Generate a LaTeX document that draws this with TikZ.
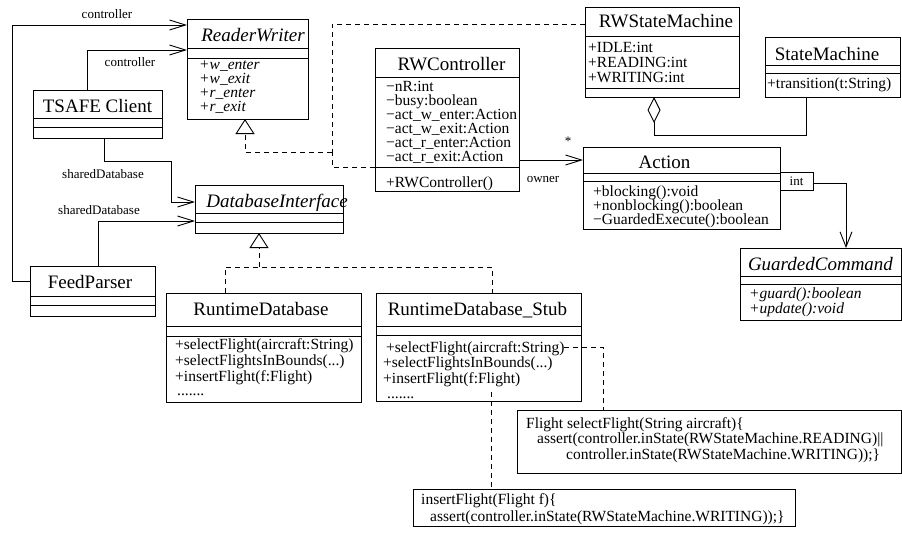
\documentclass[tikz,border=0pt]{standalone}
\usepackage{fontspec}
\setmainfont{Liberation Serif}
\usetikzlibrary{arrows.meta}
\newcommand\compline[2]{\draw[ln] (#1.west |- 0,#2) -- (#1.east |- 0,#2);}
\begin{document}
\begin{tikzpicture}[x=1pt,y=-1pt,
  ln/.style={line width=0.9pt},
  box/.style={draw, line width=0.9pt, anchor=north west, inner sep=0, outer sep=0},
  nm/.style={font=\fontsize{19}{21}\selectfont, inner sep=0, anchor=base},
  inm/.style={font=\fontsize{19}{21}\selectfont\itshape, inner sep=0, anchor=base},
  attr/.style={font=\fontsize{15.5}{16}\selectfont, inner sep=0, anchor=base west},
  iattr/.style={font=\fontsize{15.5}{16}\selectfont\itshape, inner sep=0, anchor=base west},
  lbl/.style={font=\fontsize{13}{14}\selectfont, inner sep=0, anchor=base},
  assoc/.style={ln, -{Straight Barb[length=16pt,width=10pt]}},
  assocv/.style={ln, -{Straight Barb[length=15pt,width=12pt]}},
  dsh/.style={ln, dash pattern=on 5pt off 4pt},
  real/.style={dsh, -{Triangle[open,length=15pt,width=19pt]}},
]
\useasboundingbox (0,0) rectangle (902,539);

% ---------- class boxes ----------
\node[box, minimum width=121pt, minimum height=100pt] (rw) at (187,19) {};
\compline{rw}{48}\compline{rw}{58}
\node[inm] (rwn) at (253,41) {ReaderWriter};
\foreach \t [count=\i] in {+w\_enter,+w\_exit,+r\_enter,+r\_exit}
  \node[iattr] (rwa\i) at (199,{69+14*(\i-1)}) {\t};

\node[box, minimum width=129pt, minimum height=48pt] (tsafe) at (33,90) {};
\compline{tsafe}{118}\compline{tsafe}{127}
\node[nm] (tsafen) at (97.5,112) {TSAFE Client};

\node[box, minimum width=125pt, minimum height=50pt] (fp) at (30,266) {};
\compline{fp}{296}\compline{fp}{305}
\node[nm] (fpn) at (90,288) {FeedParser};

\node[box, minimum width=148pt, minimum height=48pt] (dbi) at (195,185) {};
\compline{dbi}{213}\compline{dbi}{222}
\node[inm] (dbin) at (277,207) {DatabaseInterface};

\node[box, minimum width=144pt, minimum height=143pt] (rwc) at (375,48) {};
\compline{rwc}{77}\compline{rwc}{167}
\node[nm] (rwcn) at (451.5,70) {RWController};
\foreach \t [count=\i] in {−nR:int,−busy:boolean,−act\_w\_enter:Action,−act\_w\_exit:Action,−act\_r\_enter:Action,−act\_r\_exit:Action}
  \node[attr] (rwca\i) at (386,{91+14*(\i-1)}) {\t};
\node[attr] (rwcm) at (386,187) {+RWController()};

\node[box, minimum width=154pt, minimum height=90pt] (rwsm) at (585,7) {};
\compline{rwsm}{36}\compline{rwsm}{88}
\node[nm] (rwsmn) at (666,27) {RWStateMachine};
\foreach \t [count=\i] in {+IDLE:int,+READING:int,+WRITING:int}
  \node[attr] (rwsma\i) at (588,{52+15*(\i-1)}) {\t};

\node[box, minimum width=135pt, minimum height=60pt] (sm) at (765,37) {};
\compline{sm}{65}\compline{sm}{73}
\node[nm] (smn) at (827,60) {StateMachine};
\node[attr] (smm) at (767,88) {+transition(t:String)};

\node[box, minimum width=197pt, minimum height=82pt] (act) at (583,147) {};
\compline{act}{173}\compline{act}{181}
\node[nm] (actn) at (664.5,168) {Action};
\foreach \t [count=\i] in {+blocking():void,+nonblocking():boolean,−GuardedExecute():boolean}
  \node[attr] (acta\i) at (593,{196+14*(\i-1)}) {\t};

\node[box, minimum width=33pt, minimum height=18pt] (qual) at (780,172) {};
\node[lbl] (qualn) at (796.5,185) {int};

\node[box, minimum width=161pt, minimum height=72pt] (gc) at (740,248) {};
\compline{gc}{276}\compline{gc}{284}
\node[inm] (gcn) at (820.5,270) {GuardedCommand};
\node[iattr] (gca1) at (749,298) {+guard():boolean};
\node[iattr] (gca2) at (749,313) {+update():void};

\node[box, minimum width=195pt, minimum height=109pt] (rtd) at (166,293) {};
\compline{rtd}{326}\compline{rtd}{336}
\node[nm] (rtdn) at (261,315) {RuntimeDatabase};
\node[attr] (rtda1) at (175,349) {+selectFlight(aircraft:String)};
\node[attr] (rtda2) at (175,365) {+selectFlightsInBounds(...)};
\node[attr] (rtda3) at (175,381) {+insertFlight(f:Flight)};
\node[attr] (rtda4) at (177,395) {.......};

\node[box, minimum width=205pt, minimum height=108pt] (stub) at (376,293) {};
\compline{stub}{326}\compline{stub}{335}
\node[nm] (stubn) at (477.5,315) {RuntimeDatabase\_Stub};
\node[attr] (stuba1) at (386,352) {+selectFlight(aircraft:String)};
\node[attr] (stuba2) at (383,367) {+selectFlightsInBounds(...)};
\node[attr] (stuba3) at (383,383) {+insertFlight(f:Flight)};
\node[attr] (stuba4) at (387,398) {.......};

% ---------- notes ----------
\node[box, minimum width=384pt, minimum height=63pt] (n1) at (517,410) {};
\node[attr] (n1a) at (526,428) {Flight selectFlight(String aircraft)\{};
\node[attr] (n1b) at (537,443) {assert(controller.inState(RWStateMachine.READING)||};
\node[attr] (n1c) at (566,459) {controller.inState(RWStateMachine.WRITING));\}};

\node[box, minimum width=382pt, minimum height=37pt] (n2) at (413,489) {};
\node[attr] (n2a) at (421,504) {insertFlight(Flight f)\{};
\node[attr] (n2b) at (430,521) {assert(controller.inState(RWStateMachine.WRITING));\}};

% ---------- connectors ----------
\draw[assoc] (fp.west |- 0,281) -- (12,281) -- (12,25) -- (rw.west |- 0,25);
\node[lbl] (l1) at (107,18) {controller};
\draw[assoc] (87,0 |- tsafe.north) -- (87,50) -- (rw.west |- 0,50);
\node[lbl] (l2) at (130,66) {controller};
\draw[assoc] (104,0 |- tsafe.south) -- (104,161) -- (171,161) -- (171,202) -- (dbi.west |- 0,202);
\node[lbl] (l3) at (103,178) {sharedDatabase};
\draw[assoc] (98,0 |- fp.north) -- (98,221) -- (dbi.west |- 0,221);
\node[lbl] (l4) at (99,214) {sharedDatabase};

\draw[dsh] (rwc.west |- 0,167) -- (332,167) -- (332,152);
\draw[dsh] (rwsm.west |- 0,24) -- (332,24) -- (332,152);
\draw[real] (332,152) -- (245,152) -- (245,0 |- rw.south);

\draw[dsh] (225,0 |- rtd.north) -- (225,267) -- (492,267) -- (492,0 |- stub.north);
\draw[real] (259,267) -- (259,0 |- dbi.south);

\draw[assoc] (rwc.east |- 0,160) -- (act.west |- 0,160);
\node[lbl] (lown) at (543,182) {owner};
\node[lbl, anchor=center] (lstar) at (568,141) {*};

\draw[ln, {Diamond[open,length=26pt,width=13pt]}-] (654,0 |- rwsm.south) -- (654,135) -- (806,135) -- (806,0 |- sm.south);

\draw[assocv] (qual.east |- 0,183) -- (846,183) -- (846,0 |- gc.north);

\coordinate (sf) at (564,347);
\draw[dsh] (sf) -- (603,347) -- (603,0 |- n1.north);
\coordinate (ins) at (491,392);
\draw[dsh] (ins) -- (491,0 |- n2.north);
\end{tikzpicture}
\end{document}
